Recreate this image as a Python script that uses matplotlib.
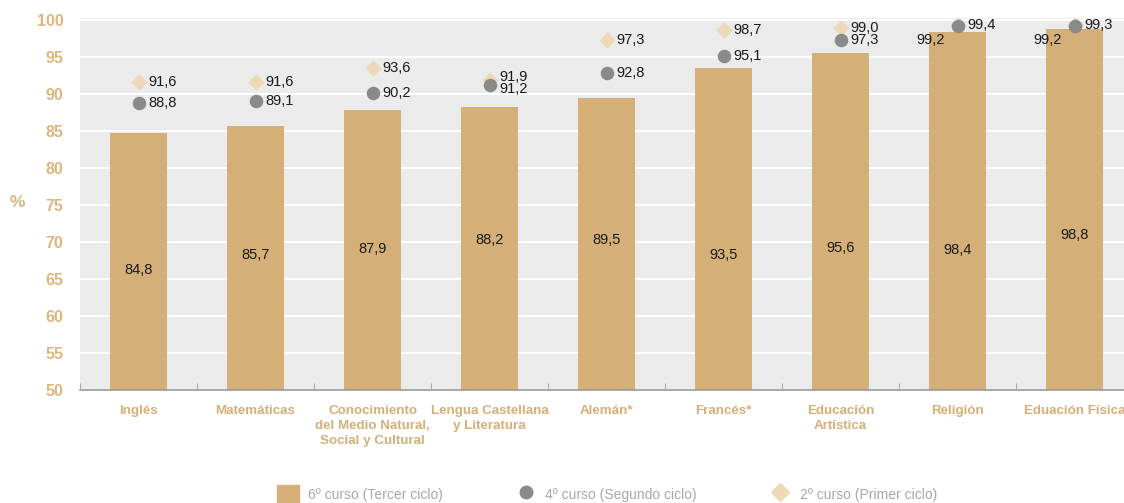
import matplotlib
matplotlib.use("Agg")
import matplotlib.pyplot as plt
from matplotlib.lines import Line2D
from matplotlib.patches import Patch
import numpy as np

# chart data
categories = ["Inglés", "Matemáticas", "Conocimiento\ndel Medio Natural,\nSocial y Cultural",
              "Lengua Castellana\ny Literatura", "Alemán*", "Francés*", "Educación\nArtística",
              "Religión", "Eduación Física"]
sexto = [84.8, 85.7, 87.9, 88.2, 89.5, 93.5, 95.6, 98.4, 98.8]
cuarto = [88.8, 89.1, 90.2, 91.2, 92.8, 95.1, 97.3, 99.2, 99.2]
segundo = [91.6, 91.6, 93.6, 91.9, 97.3, 98.7, 99.0, 99.4, 99.3]
yticks = [50, 55, 60, 65, 70, 75, 80, 85, 90, 95, 100]
legend_labels = ["6º curso (Tercer ciclo)", "4º curso (Segundo ciclo)", "2º curso (Primer ciclo)"]

# where the value labels inside the bars sit (layout only)
bar_label_y = [66.2, 68.2, 69.1, 70.3, 70.3, 68.2, 69.2, 68.9, 71.0]

plt.rcParams["font.family"] = ["Liberation Sans", "DejaVu Sans"]

TAN = "#D4AF77"
TAN_TXT = "#DDB67E"
GREY = "#8A8A8A"
BEIGE = "#EDD9B8"

fig = plt.figure(figsize=(11.24, 5.03), dpi=100)
ax = fig.add_axes([80 / 1124, 1 - 390 / 503, 1053 / 1124, 372 / 503])
ax.set_facecolor("#EBEBEB")

x = np.arange(len(categories))
ax.bar(x, sexto, width=0.49, bottom=0, color=TAN, zorder=2)
ax.scatter(x, segundo, marker="D", s=70, color=BEIGE, zorder=3, linewidths=0)
ax.scatter(x, cuarto, marker="o", s=95, color=GREY, zorder=4, linewidths=0)

fmt = lambda v: f"{v:.1f}".replace(".", ",")
for i in range(len(categories)):
    ax.text(x[i], bar_label_y[i], fmt(sexto[i]), ha="center", va="center",
            fontsize=10.5, color="#1a1a1a", zorder=5)
    # push the two labels apart a bit when the points nearly touch
    nudge = 2.5 if (segundo[i] - cuarto[i] < 1.5 and cuarto[i] < 99) else 0
    ax.annotate(fmt(segundo[i]), (x[i], segundo[i]), xytext=(7, nudge), textcoords="offset points",
                ha="left", va="center", fontsize=10.5, color="#1a1a1a", zorder=5)
    if cuarto[i] >= 99:
        ax.annotate(fmt(cuarto[i]), (x[i], cuarto[i]), xytext=(-9, -10), textcoords="offset points",
                    ha="right", va="center", fontsize=10.5, color="#1a1a1a", zorder=5)
    else:
        ax.annotate(fmt(cuarto[i]), (x[i], cuarto[i]), xytext=(7, -nudge), textcoords="offset points",
                    ha="left", va="center", fontsize=10.5, color="#1a1a1a", zorder=5)

ax.set_ylim(50, 100.3)
ax.set_xlim(-0.5, len(categories) - 0.5)
ax.set_yticks(yticks)
ax.set_yticklabels([str(t) for t in yticks], color=TAN_TXT, fontweight="bold", fontsize=11.5)
ax.tick_params(axis="y", length=0, pad=12)
ax.set_xticks(x)
ax.set_xticklabels(categories, color=TAN, fontweight="bold", fontsize=9.6, va="top",
                   linespacing=1.3)
ax.tick_params(axis="x", length=0, pad=11)
ax.set_xticks(np.arange(len(categories) + 1) - 0.5, minor=True)
ax.tick_params(axis="x", which="minor", direction="in", length=5, color="#9a9a9a")
ax.grid(axis="y", color="white", linewidth=1.5, zorder=1)
ax.set_axisbelow(True)
for s in ["top", "right", "left"]:
    ax.spines[s].set_visible(False)
ax.spines["bottom"].set_color("#9a9a9a")
ax.spines["bottom"].set_linewidth(1.2)

fig.text(17 / 1124, 1 - 203 / 503, "%", color=TAN_TXT, fontweight="bold", fontsize=12.5,
         ha="center", va="center")

handles = [Patch(color=TAN),
           Line2D([], [], marker="o", linestyle="", color=GREY, markersize=9),
           Line2D([], [], marker="D", linestyle="", color=BEIGE, markersize=9)]
leg = fig.legend(handles, legend_labels, loc="lower center", bbox_to_anchor=(0.54, -0.025),
                 ncol=3, frameon=False, fontsize=10, columnspacing=5.2, handlelength=1.6,
                 handleheight=1.6, handletextpad=0.6)
for t in leg.get_texts():
    t.set_color("#A8A8A8")

fig.savefig("out.png", dpi=100)
